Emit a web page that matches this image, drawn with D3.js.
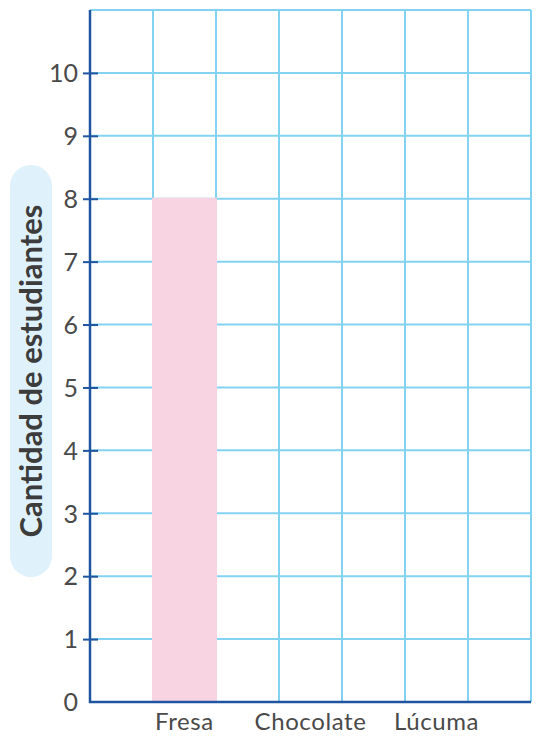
<!DOCTYPE html>
<html>
<head>
<meta charset="utf-8">
<script src="https://cdn.jsdelivr.net/npm/d3@7"></script>
<style>
  html, body { margin: 0; padding: 0; background: #ffffff; }
  svg { display: block; }
  text { font-family: "Lato", "Open Sans", "DejaVu Sans", sans-serif; }
</style>
</head>
<body>
<svg id="chart" width="538" height="736"></svg>
<script>
// Helado favorito: cantidad de estudiantes por sabor
const categories = ["Fresa", "Chocolate", "Lúcuma"];
const values = [8, null, null];          // solo Fresa está completado
const yTicks = [0, 1, 2, 3, 4, 5, 6, 7, 8, 9, 10];
const yMax = 11;
const slotCount = 7;                      // columnas de la cuadrícula
const categorySlots = [1, 3, 5];          // columna donde va cada sabor
const yTitle = "Cantidad de estudiantes";

const svg = d3.select("#chart");
const plot = { left: 90, right: 531, top: 10, bottom: 702 };

const x = d3.scaleBand()
  .domain(d3.range(slotCount))
  .range([plot.left, plot.right])
  .paddingInner(0).paddingOuter(0);

const y = d3.scaleLinear()
  .domain([0, yMax])
  .range([plot.bottom, plot.top]);

const gridColor = "#84d2f2";
const axisColor = "#1e54a0";
const textColor = "#4a4a4a";

// cuadrícula
const grid = svg.append("g");
grid.selectAll("line.v")
  .data(d3.range(1, slotCount + 1))
  .join("line")
  .attr("x1", d => x(d - 1) + x.bandwidth())
  .attr("x2", d => x(d - 1) + x.bandwidth())
  .attr("y1", y(yMax)).attr("y2", y(0))
  .attr("stroke", gridColor).attr("stroke-width", 2);
grid.selectAll("line.h")
  .data(yTicks.filter(d => d > 0).concat([yMax]))
  .join("line")
  .attr("x1", plot.left).attr("x2", plot.right)
  .attr("y1", d => y(d)).attr("y2", d => y(d))
  .attr("stroke", gridColor).attr("stroke-width", 2);

// barras (cubren las líneas de la cuadrícula que las rodean)
const barData = categories.map((c, i) => ({ c, v: values[i], slot: categorySlots[i] }))
  .filter(d => d.v != null);
const overlap = 1;
svg.append("g").selectAll("rect")
  .data(barData)
  .join("rect")
  .attr("x", d => x(d.slot) - overlap)
  .attr("width", x.bandwidth() + 2 * overlap)
  .attr("y", d => y(d.v) - overlap)
  .attr("height", d => y(0) - y(d.v) + overlap)
  .attr("fill", "#f8d3e2");

// eje Y
const yAxis = d3.axisLeft(y).tickValues(yTicks).tickSize(0).tickPadding(12)
  .tickFormat(d3.format("d"));
const gy = svg.append("g").attr("transform", `translate(${plot.left},0)`).call(yAxis);
gy.select(".domain").remove();
gy.selectAll(".tick text")
  .attr("font-size", 25).attr("fill", textColor)
  .attr("font-family", "Lato, 'Open Sans', sans-serif")
  .attr("dy", "0.35em");
gy.selectAll(".tick").filter(d => d > 0).append("line")
  .attr("x1", -7).attr("x2", 8)
  .attr("stroke", axisColor).attr("stroke-width", 2);

// eje X (etiquetas)
const gx = svg.append("g");
gx.selectAll("text")
  .data(categories)
  .join("text")
  .attr("x", (d, i) => x(categorySlots[i]) + x.bandwidth() / 2)
  .attr("y", 730)
  .attr("text-anchor", "middle")
  .attr("font-size", 24)
  .attr("letter-spacing", 0.6)
  .attr("fill", textColor)
  .text(d => d);

// líneas de los ejes
svg.append("line")
  .attr("x1", plot.left).attr("x2", plot.left)
  .attr("y1", y(yMax)).attr("y2", y(0) + 1)
  .attr("stroke", axisColor).attr("stroke-width", 2.5);
svg.append("line")
  .attr("x1", plot.left - 1).attr("x2", plot.right)
  .attr("y1", y(0)).attr("y2", y(0))
  .attr("stroke", axisColor).attr("stroke-width", 2.5);

// título del eje Y en una cápsula
const pill = svg.append("g").attr("transform", "translate(31,371)");
pill.append("rect")
  .attr("x", -21).attr("y", -206)
  .attr("width", 42).attr("height", 412)
  .attr("rx", 21).attr("ry", 21)
  .attr("fill", "#dff1fb");
pill.append("text")
  .attr("transform", "rotate(-90)")
  .attr("text-anchor", "middle")
  .attr("dy", "0.36em")
  .attr("font-size", 31)
  .attr("font-weight", "bold")
  .attr("fill", "#3c3c3c")
  .text(yTitle);
</script>
</body>
</html>
